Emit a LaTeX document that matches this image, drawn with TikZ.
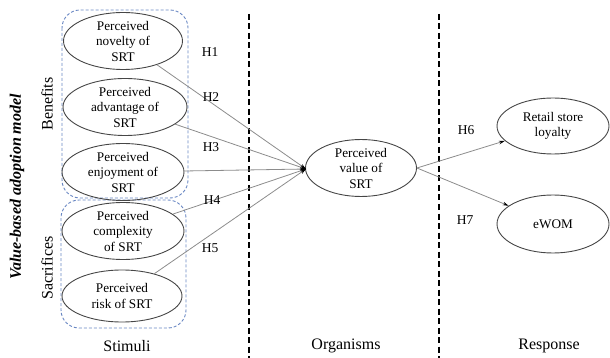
\documentclass[tikz,border=0pt]{standalone}
\usepackage{fontspec}
\setmainfont{Liberation Serif}
\usetikzlibrary{arrows.meta,shapes.geometric}
\definecolor{boxblue}{RGB}{105,135,195}
\definecolor{linegray}{RGB}{140,140,140}
\definecolor{ellgray}{RGB}{70,70,70}
\tikzset{
  construct/.style={draw=ellgray, line width=0.9pt, ellipse, inner sep=0pt, align=center,
    font=\fontsize{13.2}{15.5}\selectfont},
  groupbox/.style={draw=boxblue, dash pattern=on 3pt off 2pt, line width=0.9pt, rounded corners=18pt},
  divider/.style={draw=black, line width=1.1pt, dash pattern=on 6pt off 3.5pt},
  hyp/.style={font=\fontsize{13.5}{15}\selectfont},
  path/.style={draw=linegray, line width=0.8pt, -{Stealth[length=6pt,width=3.5pt,black]}},
  stage/.style={font=\fontsize{16}{18}\selectfont},
  side/.style={font=\fontsize{16}{18}\selectfont, rotate=90}
}
\begin{document}
\begin{tikzpicture}[x=1pt,y=-1pt]
\useasboundingbox (0,0) rectangle (610,358);
% group boxes
\draw[groupbox] (62,10) rectangle (188,198);
\draw[groupbox] (61,200) rectangle (186,328);
% dividers
\coordinate (d1t) at (249,14); \coordinate (d1b) at (249,358);
\coordinate (d2t) at (439,14); \coordinate (d2b) at (439,358);
\draw[divider] (d1t) -- (d1b);
\draw[divider] (d2t) -- (d2b);
% stimuli
\node[construct, minimum width=119pt, minimum height=54pt] (nov) at (123,41) {Perceived\\novelty of\\SRT};
\node[construct, minimum width=124pt, minimum height=52pt] (adv) at (125,107) {Perceived\\advantage of\\SRT};
\node[construct, minimum width=122pt, minimum height=50pt] (enj) at (123,172) {Perceived\\enjoyment of\\SRT};
\node[construct, minimum width=122pt, minimum height=56pt] (cpx) at (123,231) {Perceived\\complexity\\of SRT};
\node[construct, minimum width=120pt, minimum height=52pt] (rsk) at (122,296) {Perceived\\risk of SRT};
% organism
\node[construct, minimum width=111pt, minimum height=54pt] (val) at (361,168) {Perceived\\value of\\SRT};
% response
\node[construct, minimum width=112pt, minimum height=56pt] (loy) at (553,126) {Retail store\\loyalty};
\node[construct, minimum width=112pt, minimum height=58pt] (wom) at (553,224) {eWOM};
% convergence
\coordinate (conv) at (306,169);
\draw[path] (nov) -- (conv);
\draw[path] (adv) -- (conv);
\draw[path] (enj) -- (conv);
\draw[path] (cpx) -- (conv);
\draw[path] (rsk) -- (conv);
\draw[path] (val.east) -- (loy);
\draw[path] (val.east) -- (wom);
% hypothesis labels
\node[hyp] (h1) at (210,52) {H1};
\node[hyp] (h2) at (211,97) {H2};
\node[hyp] (h3) at (211,147) {H3};
\node[hyp] (h4) at (212,200) {H4};
\node[hyp] (h5) at (210,248) {H5};
\node[hyp] (h6) at (466,130) {H6};
\node[hyp] (h7) at (465,220) {H7};
% side labels
\node[side] (ben) at (47,104) {Benefits};
\node[side] (sac) at (47,268) {Sacrifices};
\node[side, font=\fontsize{16}{18}\selectfont\bfseries\itshape] (vam) at (17,187) {Value-based adoption model};
% stage labels
\node[stage] (sti) at (127,346) {Stimuli};
\node[stage] (org) at (346,346) {Organisms};
\node[stage] (res) at (549,346) {Response};
\end{tikzpicture}
\end{document}
